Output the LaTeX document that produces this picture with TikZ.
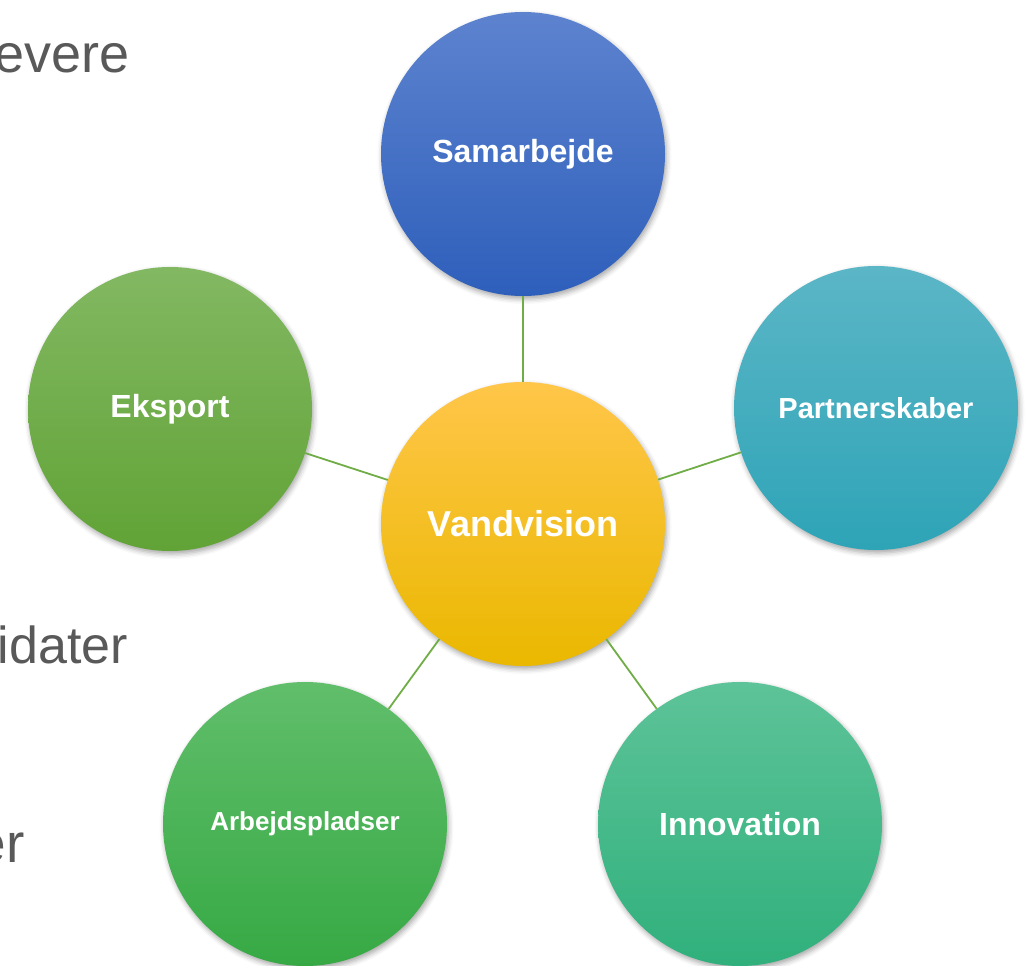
\documentclass[tikz,border=0pt]{standalone}
\usepackage{fontspec}
\setmainfont{Liberation Sans}
\usetikzlibrary{shadows.blur}
\definecolor{spokegreen}{HTML}{70AD47}
\definecolor{sidegray}{HTML}{595959}

\begin{document}
\begin{tikzpicture}[x=1pt,y=-1pt,
  bubble/.style={circle, minimum size=284pt, inner sep=0pt, text=white,
    font=\bfseries\fontsize{32}{38}\selectfont,
    blur shadow={shadow xshift=1.5pt, shadow yshift=-3pt, shadow blur radius=5pt, shadow opacity=35}},
  spoke/.style={line width=1.8pt, color=spokegreen},
  sidetext/.style={anchor=base east, inner sep=0pt, text=sidegray}]
\useasboundingbox (0,0) rectangle (1026,966);
% words cut off at the left edge
\node[sidetext, font=\fontsize{54}{60}\selectfont] (evere) at (130,73) {evere};
\node[sidetext, font=\fontsize{52}{60}\selectfont] (idater) at (128,663) {idater};
\node[sidetext, font=\fontsize{55}{60}\selectfont] (er) at (25,862) {er};
% the circles
\node[bubble, top color={rgb,255:red,93;green,131;blue,207}, bottom color={rgb,255:red,46;green,95;blue,187}] (samarbejde) at (523,154) {Samarbejde};
\node[bubble, top color={rgb,255:red,91;green,182;blue,198}, bottom color={rgb,255:red,46;green,164;blue,183}, font=\bfseries\fontsize{29}{34}\selectfont] (partner) at (876,408) {Partnerskaber};
\node[bubble, top color={rgb,255:red,93;green,195;blue,152}, bottom color={rgb,255:red,48;green,176;blue,124}] (innovation) at (740,824) {Innovation};
\node[bubble, top color={rgb,255:red,97;green,190;blue,107}, bottom color={rgb,255:red,54;green,169;blue,68}, font=\bfseries\fontsize{26}{30}\selectfont] (arbejde) at (305,824) {Arbejdspladser};
\node[bubble, top color={rgb,255:red,130;green,184;blue,98}, bottom color={rgb,255:red,97;green,163;blue,54}] (eksport) at (170,409) {Eksport};
\node[bubble, top color={rgb,255:red,255;green,198;blue,73}, bottom color={rgb,255:red,234;green,184;blue,0}, font=\bfseries\fontsize{36}{42}\selectfont] (vand) at (523,524) {Vandvision};
% spokes
\draw[spoke] (vand) -- (samarbejde);
\draw[spoke] (vand) -- (partner);
\draw[spoke] (vand) -- (innovation);
\draw[spoke] (vand) -- (arbejde);
\draw[spoke] (vand) -- (eksport);
\end{tikzpicture}
\end{document}
